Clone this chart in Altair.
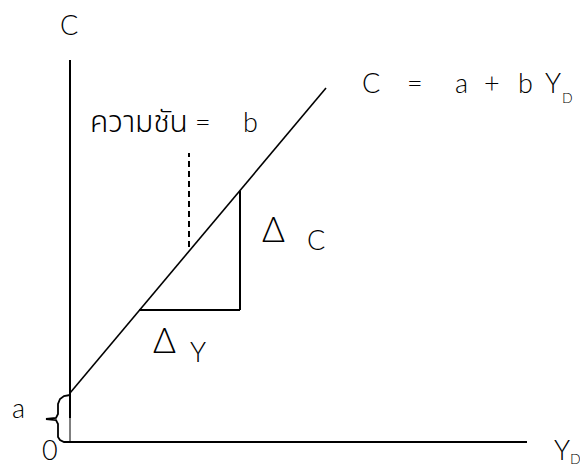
import altair as alt
import pandas as pd

# Diagram coordinates: origin at the intersection of the axes (0 on both axes)
X_DOMAIN = [-62, 510]
Y_DOMAIN = [-24, 434]

# Axes (thick part) and the thin lower stub of the C axis
axis_x1 = [0, 0]
axis_y1 = [382, 0]
axis_x2 = [0, 457]
axis_y2 = [24, 0]

stub_x1 = [0]
stub_y1 = [24]
stub_x2 = [0]
stub_y2 = [0]

# Consumption function C = a + bYd (intercept a = 49)
cons_x1 = [0]
cons_y1 = [49]
cons_x2 = [256]
cons_y2 = [354]

# Slope triangle: dY (horizontal) and dC (vertical)
tri_x1 = [69, 170]
tri_y1 = [132, 132]
tri_x2 = [170, 170]
tri_y2 = [132, 251]

# Dashed pointer to the slope
dash_x1 = [119]
dash_y1 = [195]
dash_x2 = [119]
dash_y2 = [289]

# Brace marking the intercept a
brace_x = [0, -6, -10, -12, -12, -14, -24, -14, -12, -12, -10, -6, 0]
brace_y = [47, 46, 43, 38, 28, 24, 23, 22, 18, 5, 2, 0, 0]

# Latin text labels (left edge, baseline)
lab_text = ["C", "C", "=", "a", "+", "b", "Y", "=", "b", "C", "Y", "a", "0", "Y"]
lab_x = [-10, 292, 337, 385, 414, 448, 475, 125, 173, 237, 120, -58, -28, 484]
lab_y = [407, 349, 349, 349, 349, 349, 349, 310, 310, 192, 80, 24, -18, -18]

# Thai label
thai_text = ["ความชัน"]
thai_x = [20]
thai_y = [310]

sub_text = ["D", "D"]
sub_x = [492, 500]
sub_y = [339, -22]

delta_text = ["Δ", "Δ"]
delta_x = [192, 83]
delta_y = [200, 89]

xs = alt.Scale(domain=X_DOMAIN, nice=False, zero=False)
ys = alt.Scale(domain=Y_DOMAIN, nice=False, zero=False)


def seg_df(x1, y1, x2, y2):
    return pd.DataFrame({"x": x1, "y": y1, "x2": x2, "y2": y2})


def rules(df, **kw):
    return alt.Chart(df).mark_rule(color="black", **kw).encode(
        x=alt.X("x:Q", scale=xs, axis=None),
        y=alt.Y("y:Q", scale=ys, axis=None),
        x2="x2:Q",
        y2="y2:Q",
    )


axes = rules(seg_df(axis_x1, axis_y1, axis_x2, axis_y2), strokeWidth=2)
stub = rules(seg_df(stub_x1, stub_y1, stub_x2, stub_y2), strokeWidth=1)
cons = rules(seg_df(cons_x1, cons_y1, cons_x2, cons_y2), strokeWidth=1.6)
tri = rules(seg_df(tri_x1, tri_y1, tri_x2, tri_y2), strokeWidth=2)
dash = rules(seg_df(dash_x1, dash_y1, dash_x2, dash_y2), strokeWidth=2, strokeDash=[6, 4])

brace_df = pd.DataFrame({"x": brace_x, "y": brace_y, "o": list(range(len(brace_x)))})
brace = alt.Chart(brace_df).mark_line(color="black", strokeWidth=1.8).encode(
    x=alt.X("x:Q", scale=xs, axis=None),
    y=alt.Y("y:Q", scale=ys, axis=None),
    order="o:Q",
)


def texts(txt, x, y, size, font="Lato", weight=300):
    df = pd.DataFrame({"t": txt, "x": x, "y": y})
    return alt.Chart(df).mark_text(
        align="left", baseline="alphabetic", fontSize=size, font=font,
        fontWeight=weight, color="black",
    ).encode(
        x=alt.X("x:Q", scale=xs, axis=None),
        y=alt.Y("y:Q", scale=ys, axis=None),
        text="t:N",
    )


labels = texts(lab_text, lab_x, lab_y, 27)
thai = texts(thai_text, thai_x, thai_y, 30, font="Noto Sans Thai, Noto Sans, sans-serif")
subs = texts(sub_text, sub_x, sub_y, 14)
deltas = texts(delta_text, delta_x, delta_y, 35, font="Lato, DejaVu Sans")

chart = alt.layer(axes, stub, cons, tri, dash, brace, labels, thai, subs, deltas).properties(
    width=572, height=458, padding=0, autosize="none"
).configure_view(stroke=None)

chart.save("out.html", embed_options={"renderer": "svg", "actions": False})
